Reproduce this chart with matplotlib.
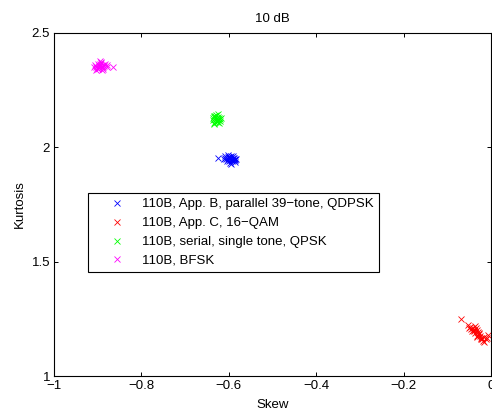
import matplotlib
matplotlib.use('Agg')
import matplotlib.pyplot as plt

plt.rcParams['font.family'] = ['Liberation Sans', 'DejaVu Sans']
plt.rcParams['font.size'] = 9.5

# skew / kurtosis estimates per waveform
blue_x = [-0.597, -0.603, -0.592, -0.588, -0.600, -0.595, -0.606, -0.590, -0.598, -0.585,
          -0.610, -0.593, -0.601, -0.587, -0.596, -0.604, -0.591, -0.599, -0.594, -0.586,
          -0.608, -0.602, -0.589, -0.625, -0.612, -0.597, -0.583, -0.600]
blue_y = [1.951, 1.958, 1.946, 1.955, 1.940, 1.962, 1.948, 1.960, 1.933, 1.944,
          1.953, 1.938, 1.966, 1.950, 1.945, 1.942, 1.953, 1.957, 1.929, 1.937,
          1.961, 1.950, 1.943, 1.955, 1.947, 1.959, 1.948, 1.952]

red_x = [-0.069, -0.053, -0.047, -0.042, -0.038, -0.045, -0.035, -0.040, -0.033, -0.030,
         -0.037, -0.028, -0.025, -0.032, -0.022, -0.020, -0.018, -0.024, -0.015, -0.012,
         -0.016, -0.027, -0.043, -0.008, -0.010, -0.036, -0.050, -0.031]
red_y = [1.249, 1.222, 1.215, 1.208, 1.200, 1.205, 1.212, 1.195, 1.203, 1.193,
         1.188, 1.182, 1.175, 1.176, 1.168, 1.160, 1.153, 1.163, 1.170, 1.160,
         1.148, 1.190, 1.198, 1.178, 1.165, 1.217, 1.210, 1.170]

green_x = [-0.629, -0.633, -0.625, -0.636, -0.622, -0.630, -0.627, -0.634, -0.620, -0.631,
           -0.624, -0.637, -0.628, -0.626, -0.632, -0.621, -0.635, -0.630, -0.623, -0.628,
           -0.633, -0.619]
green_y = [2.125, 2.131, 2.120, 2.118, 2.128, 2.140, 2.112, 2.104, 2.122, 2.135,
           2.132, 2.127, 2.117, 2.145, 2.110, 2.114, 2.137, 2.123, 2.108, 2.130,
           2.100, 2.126]

mag_x = [-0.895, -0.900, -0.890, -0.897, -0.888, -0.903, -0.893, -0.885, -0.899, -0.906,
         -0.892, -0.884, -0.902, -0.896, -0.889, -0.880, -0.904, -0.898, -0.887, -0.894,
         -0.878, -0.866, -0.909, -0.891]
mag_y = [2.356, 2.362, 2.350, 2.345, 2.360, 2.352, 2.368, 2.355, 2.340, 2.358,
         2.372, 2.362, 2.347, 2.364, 2.343, 2.358, 2.336, 2.354, 2.352, 2.375,
         2.350, 2.350, 2.350, 2.338]

labels = ['110B, App. B, parallel 39\u2212tone, QDPSK',
          '110B, App. C, 16\u2212QAM',
          '110B, serial, single tone, QPSK',
          '110B, BFSK']

fig = plt.figure(figsize=(4.92, 4.11), dpi=100)
ax = fig.add_axes([0.110, 0.085, 0.888, 0.835])

mk = dict(marker='x', linestyle='none', ms=4.2, mew=0.6, clip_on=False)
ax.plot(blue_x, blue_y, color=(0, 0, 1), label=labels[0], **mk)
ax.plot(red_x, red_y, color=(1, 0, 0), label=labels[1], **mk)
ax.plot(green_x, green_y, color=(0, 1, 0), label=labels[2], **mk)
ax.plot(mag_x, mag_y, color=(1, 0, 1), label=labels[3], **mk)

ax.set_xlim(-1, 0)
ax.set_ylim(1, 2.5)
ax.set_xticks([-1, -0.8, -0.6, -0.4, -0.2, 0])
ax.set_xticklabels(['\u22121', '\u22120.8', '\u22120.6', '\u22120.4', '\u22120.2', '0'])
ax.set_yticks([1, 1.5, 2, 2.5])
ax.set_yticklabels(['1', '1.5', '2', '2.5'])
ax.tick_params(direction='in', length=3, width=0.7, top=True, right=True, pad=3)
for s in ax.spines.values():
    s.set_linewidth(0.8)

ax.set_xlabel('Skew', labelpad=5)
ax.set_ylabel('Kurtosis', labelpad=4)
ax.set_title('10 dB', fontsize=9.5, pad=8)

leg = ax.legend(loc='upper left', bbox_to_anchor=(0.0778, 0.5335), borderaxespad=0,
                fancybox=False, framealpha=1, edgecolor='black', fontsize=9.5,
                borderpad=0.4, labelspacing=0.5, handlelength=3.55, handletextpad=0.12,
                numpoints=1)
leg.get_frame().set_linewidth(0.8)

fig.savefig('out.png', dpi=100)
